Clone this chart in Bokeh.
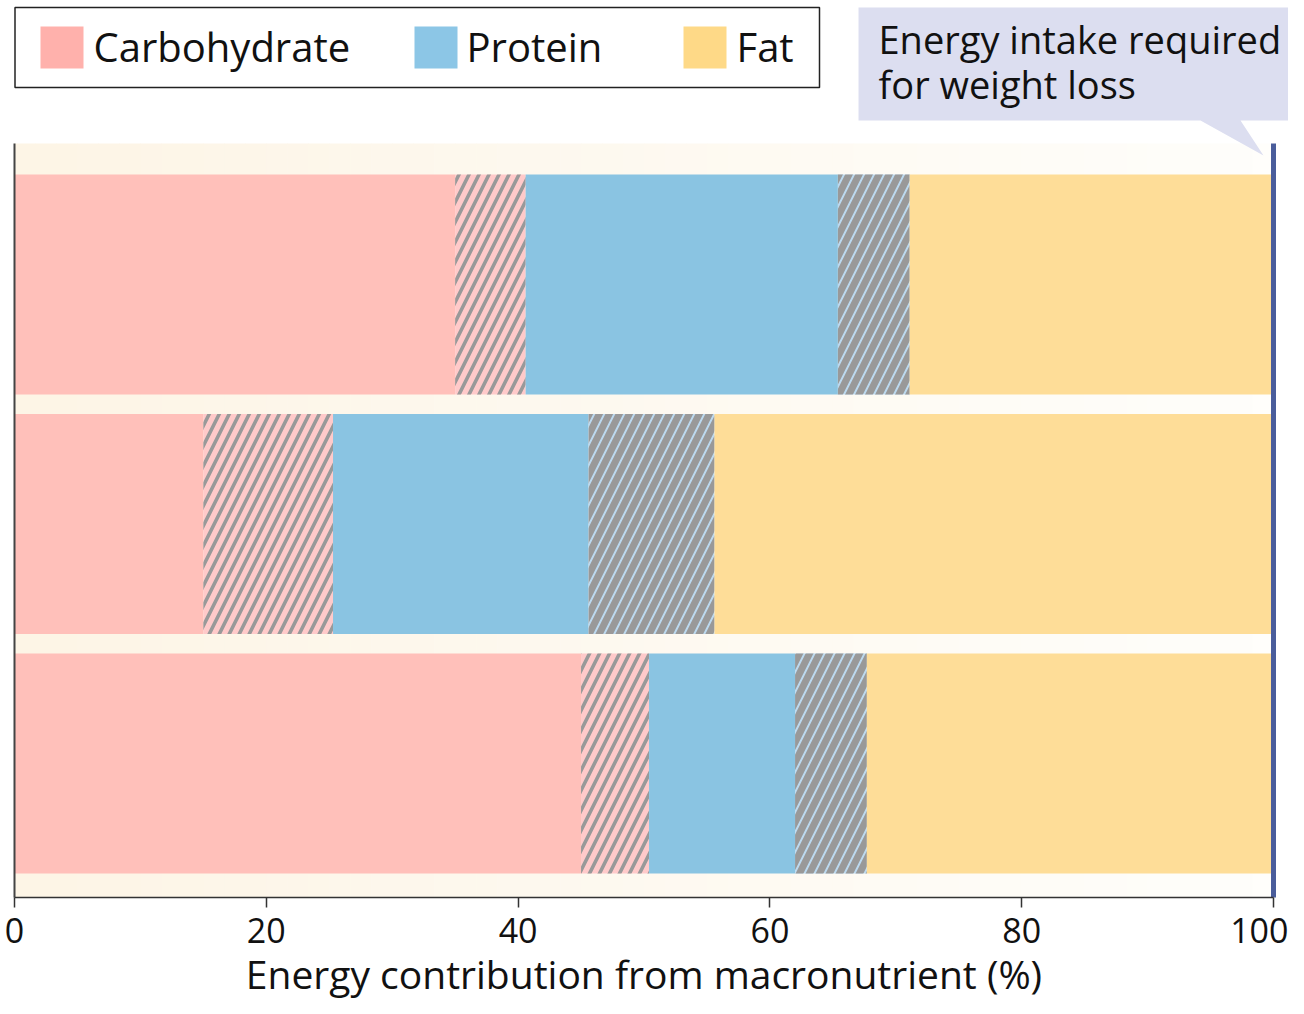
import numpy as np
from bokeh.plotting import figure
from bokeh.models import Range1d, FixedTicker, ColumnDataSource
from bokeh.core.properties import value
from bokeh.embed import file_html
from bokeh.resources import INLINE

# ---- data ----
rows = [2, 1, 0]                      # top, middle, bottom diet bars
carb_min = [35.0, 15.0, 45.0]         # carbohydrate share, lower bound (%)
carb_max = [40.6, 25.3, 50.4]         # carbohydrate share, upper bound (%)
carb_prot_min = [65.4, 45.6, 62.0]    # carbohydrate + protein, lower bound (%)
carb_prot_max = [71.1, 55.6, 67.7]    # carbohydrate + protein, upper bound (%)
total = [100.0, 100.0, 100.0]
zeros = [0.0, 0.0, 0.0]
x_ticks = [0, 20, 40, 60, 80, 100]
legend_labels = ["Carbohydrate", "Protein", "Fat"]
callout_lines = ["Energy intake required", "for weight loss"]
x_label = "Energy contribution from macronutrient (%)"

CARB = "#ffc0ba"
PROT = "#8ac4e2"
FAT = "#fedd98"
LEG_COLORS = ["#ffb1ac", "#8cc6e6", "#fed987"]
FONT = "Open Sans"
TXT = "#111111"

# pixel helpers (layout only)
X0PX, PXU = 14.0, 12.59          # x=0 at px 14, 12.59 px per %
YC, PITCH = 284.0, 239.5         # centre of top bar, bar pitch
def X(px): return (px - X0PX) / PXU
def Y(py): return 2 + (YC - py) / PITCH

W, H = 1288, 998
Y0, Y1 = Y(H), Y(0)
AX_Y = Y(897)
BG_TOP = Y(143)
BAR_H = 220 / PITCH

p = figure(width=W, height=H, x_range=Range1d(X(0), X(W)), y_range=Range1d(Y0, Y1),
           output_backend="svg", toolbar_location=None,
           min_border_left=0, min_border_right=0, min_border_top=0, min_border_bottom=0)
p.outline_line_color = None
p.xgrid.visible = False
p.ygrid.visible = False
p.yaxis.visible = False
p.background_fill_color = "white"
p.border_fill_color = "white"

# cream background gradient (decorative)
n = 60
edges = np.linspace(0, 100, n + 1)
t = np.linspace(0, 1, n)
c0 = np.array([253, 245, 230]); c1 = np.array([255, 254, 251])
cols = ["#%02x%02x%02x" % tuple((c0 + (c1 - c0) * tt).astype(int)) for tt in t]
p.quad(left=edges[:-1], right=edges[1:] + 0.05, bottom=AX_Y, top=BG_TOP, fill_color=cols, line_color=None)

src = ColumnDataSource(dict(y=rows, zero=zeros, c_lo=carb_min, c_hi=carb_max,
                            cp_lo=carb_prot_min, cp_hi=carb_prot_max, tot=total))

p.hbar(y="y", left="zero", right="c_lo", height=BAR_H, source=src, fill_color=CARB, line_color=None)
p.hbar(y="y", left="c_lo", right="c_hi", height=BAR_H, source=src, fill_color="#ffcaca", line_color=None,
       hatch_pattern="/", hatch_color="#999999", hatch_weight=3.6, hatch_scale=20)
p.hbar(y="y", left="c_hi", right="cp_lo", height=BAR_H, source=src, fill_color=PROT, line_color=None)
p.hbar(y="y", left="cp_lo", right="cp_hi", height=BAR_H, source=src, fill_color="#bcd9ef", line_color=None,
       hatch_pattern="/", hatch_color="#999999", hatch_weight=7, hatch_scale=20)
p.hbar(y="y", left="cp_hi", right="tot", height=BAR_H, source=src, fill_color=FAT, line_color=None)

# left axis line and right energy-requirement line
p.segment(x0=[0], y0=[AX_Y], x1=[0], y1=[BG_TOP], line_color="#444444", line_width=2)
p.segment(x0=[100], y0=[AX_Y], x1=[100], y1=[BG_TOP], line_color="#4a5d9b", line_width=5)

# callout box with pointer
cx = [X(858), X(W + 20), X(W + 20), X(1240), X(1263), X(1200), X(858)]
cy = [Y(7), Y(7), Y(120), Y(120), Y(155), Y(120), Y(120)]
p.patch(cx, cy, fill_color="#dcdef0", line_color=None)
p.text(x=[X(878)] * 2, y=[Y(38), Y(83)], text=callout_lines, text_font=value(FONT),
       text_font_size="38px", text_baseline="middle", text_color=TXT)

# legend (drawn manually to match the boxed layout)
p.quad(left=[X(14.5)], right=[X(819)], top=[Y(7)], bottom=[Y(87)], fill_color="white",
       line_color="#222222", line_width=1.5)
sq_left = [X(40), X(414), X(683)]
p.quad(left=sq_left, right=[v + 43 / PXU for v in sq_left], top=Y(26), bottom=Y(68),
       fill_color=LEG_COLORS, line_color=None)
p.text(x=[X(93), X(466), X(736)], y=Y(46), text=legend_labels, text_font=value(FONT),
       text_font_size="40px", text_baseline="middle", text_color=TXT)

# x axis drawn at a fixed location inside the frame
ax = p.xaxis[0]
ax.fixed_location = AX_Y
ax.bounds = (0, 100)
ax.ticker = FixedTicker(ticks=x_ticks)
ax.minor_tick_line_color = None
ax.major_tick_in = 0
ax.major_tick_out = 10
ax.axis_line_color = "#333333"
ax.axis_line_width = 1.5
ax.major_tick_line_color = "#333333"
ax.major_tick_line_width = 1.5
ax.major_label_text_font = FONT
ax.major_label_text_font_size = "34px"
ax.major_label_text_color = TXT
ax.major_label_standoff = 10
ax.axis_label = x_label
ax.axis_label_text_font = FONT
ax.axis_label_text_font_size = "39px"
ax.axis_label_text_font_style = "normal"
ax.axis_label_text_color = TXT
ax.axis_label_standoff = 1

open("out.html", "w").write(file_html(p, INLINE))
